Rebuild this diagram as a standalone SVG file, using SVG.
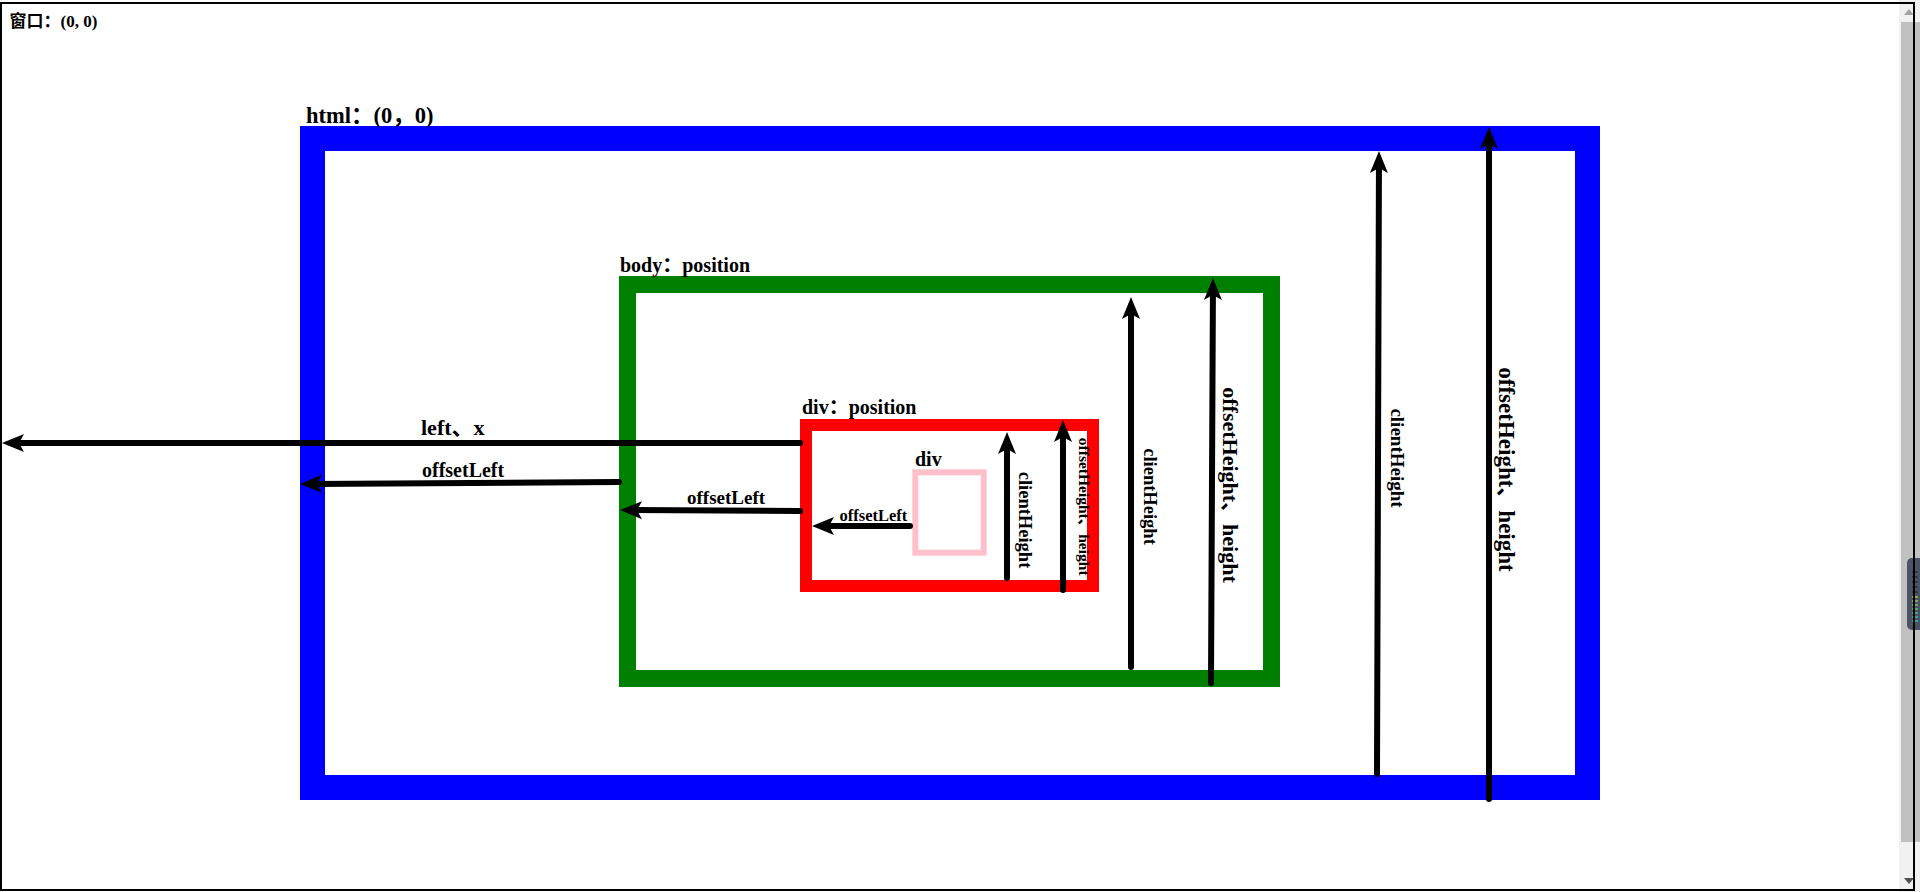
<svg xmlns="http://www.w3.org/2000/svg" width="1920" height="892" viewBox="0 0 1920 892">
<style>
.t{font-family:"Liberation Serif","Times New Roman","Noto Sans CJK SC",serif;font-weight:bold;fill:#000}
.c{stroke:#000;stroke-width:6;stroke-linecap:round;fill:none;marker-end:url(#ah)}
.box{fill:none}
</style>
<defs>
<marker id="ah" markerUnits="userSpaceOnUse" markerWidth="24" markerHeight="20" viewBox="0 0 24 20" refX="10" refY="10" orient="auto">
<path d="M0,1 L22,10 L0,19 L5,10 Z" fill="#000"/>
</marker>
</defs>
<rect width="1920" height="892" fill="#fff"/>
<g id="scrollbar">
<rect x="1899" y="0" width="21" height="892" fill="#f1f1f1"/>
<rect x="1901" y="22" width="19" height="820" fill="#c1c1c1"/>
<path d="M1904,15 L1909,9 L1914,15 Z" fill="#a3a3a3"/>
<path d="M1904,878 L1909,884 L1914,878 Z" fill="#505050"/>
<rect x="1907" y="558" width="22" height="72" rx="5" fill="#4b5263"/>
<g stroke-width="1.5">
<line x1="1912" y1="572" x2="1918" y2="572" stroke="#2c313b"/>
<line x1="1912" y1="577" x2="1918" y2="577" stroke="#2c313b"/>
<line x1="1912" y1="582" x2="1918" y2="582" stroke="#2c313b"/>
<line x1="1912" y1="587" x2="1918" y2="587" stroke="#2c313b"/>
<line x1="1912" y1="592" x2="1918" y2="592" stroke="#2c313b"/>
<line x1="1912" y1="597" x2="1918" y2="597" stroke="#a9c23a"/>
<line x1="1912" y1="601" x2="1918" y2="601" stroke="#8fc64a"/>
<line x1="1912" y1="605" x2="1918" y2="605" stroke="#6cc85e"/>
<line x1="1912" y1="609" x2="1918" y2="609" stroke="#4cc878"/>
<line x1="1912" y1="613" x2="1918" y2="613" stroke="#35c493"/>
<line x1="1912" y1="617" x2="1918" y2="617" stroke="#2cbfae"/>
<line x1="1912" y1="621" x2="1918" y2="621" stroke="#27b9c4"/>
</g>
</g>
<g id="window">
<rect x="1" y="3" width="1913" height="887" fill="none" stroke="#000" stroke-width="2"/>
<text class="t" x="9.5" y="27" font-size="17">窗口：(0, 0)</text>
</g>
<g id="html">
<rect class="box" x="312.5" y="138.5" width="1275" height="649" stroke="#0000ff" stroke-width="25"/>
<text class="t" x="306" y="123" font-size="22.5">html：(0，0)</text>
</g>
<g id="body">
<rect class="box" x="627.5" y="284.5" width="644" height="394" stroke="#008000" stroke-width="17"/>
<text class="t" x="620" y="272" font-size="20">body：position</text>
</g>
<g id="div-position">
<rect class="box" x="806" y="425" width="287" height="161" stroke="#ff0000" stroke-width="12"/>
<text class="t" x="802" y="414" font-size="20">div：position</text>
</g>
<g id="div">
<rect class="box" x="915.3" y="472.3" width="68.4" height="80.4" stroke="#ffc0cb" stroke-width="6"/>
<text class="t" x="915" y="466" font-size="20">div</text>
</g>
<g id="connectors">
<line class="c" x1="800" y1="443" x2="14" y2="443"/>
<line class="c" x1="619" y1="482" x2="312" y2="483.9"/>
<line class="c" x1="800" y1="511" x2="632" y2="510.1"/>
<line class="c" x1="910" y1="526" x2="824" y2="526"/>
<line class="c" x1="1007" y1="578" x2="1007" y2="444"/>
<line class="c" x1="1063" y1="590" x2="1063" y2="432"/>
<line class="c" x1="1131" y1="667" x2="1131" y2="309"/>
<line class="c" x1="1211" y1="683" x2="1212.94" y2="290"/>
<line class="c" x1="1377" y1="774" x2="1378.96" y2="163"/>
<line class="c" x1="1489" y1="799" x2="1489" y2="139"/>
</g>
<g id="labels">
<text class="t" x="421" y="435" font-size="22">left、x</text>
<text class="t" x="422" y="476.5" font-size="20">offsetLeft</text>
<text class="t" x="687" y="504" font-size="19">offsetLeft</text>
<text class="t" x="839.5" y="520.5" font-size="16.5">offsetLeft</text>
<text class="t" font-size="18.5" text-anchor="middle" transform="translate(1019,520) rotate(90)">clientHeight</text>
<text class="t" font-size="15.5" text-anchor="middle" transform="translate(1078.5,506.7) rotate(90)">offsetHeight、height</text>
<text class="t" font-size="18.5" text-anchor="middle" transform="translate(1144,496.5) rotate(90)">clientHeight</text>
<text class="t" font-size="22" text-anchor="middle" transform="translate(1223,485) rotate(90)">offsetHeight、height</text>
<text class="t" font-size="19" text-anchor="middle" transform="translate(1390.5,458) rotate(90)">clientHeight</text>
<text class="t" font-size="23" text-anchor="middle" transform="translate(1499,469.5) rotate(90)">offsetHeight、height</text>
</g>
</svg>
